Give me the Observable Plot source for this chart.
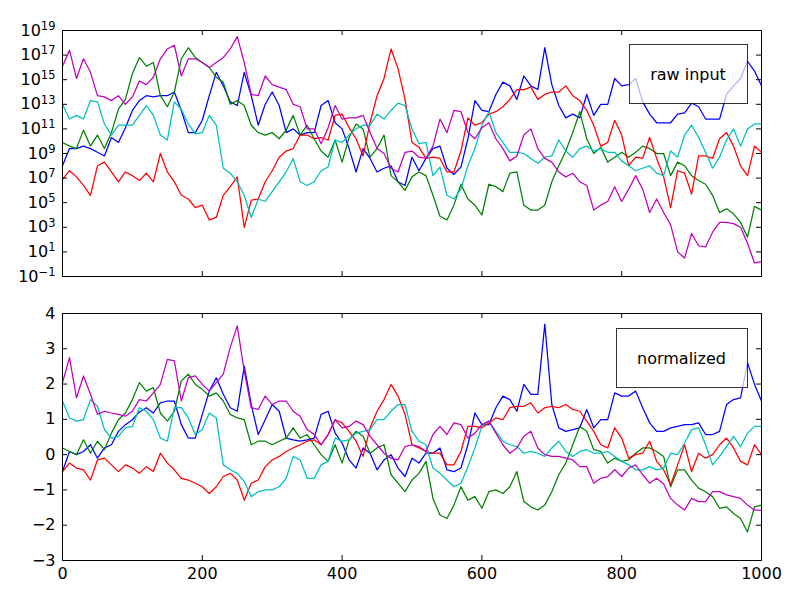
<!DOCTYPE html>
<html><head><meta charset="utf-8">
<script src="https://cdn.jsdelivr.net/npm/d3@7"></script>
<script src="https://cdn.jsdelivr.net/npm/@observablehq/plot@0.6"></script>
<style>
body{margin:0;background:#fff;}
#chart{width:800px;height:600px;}
#chart svg{display:block;}
</style></head><body><div id="chart"></div>
<script>
// sample positions (every 10 steps)
const steps = d3.range(0, 1001, 10);
const seriesNames = ["b", "g", "r", "c", "m"];
const seriesColors = ["#0000ff", "#008000", "#ff0000", "#00bfbf", "#bf00bf"];

// raw input as log10 exponents
const rawBlue = [
 8.0, 9.4, 9.4, 9.6, 9.4, 9.1, 8.8, 10.3, 9.9, 11.1,
 12.5, 13.3, 13.7, 13.6, 13.7, 13.7, 14.0, 12.5, 10.7, 10.7,
 11.7, 13.7, 15.6, 14.5, 13.2, 12.9, 15.6, 13.7, 11.3, 13.0,
 14.0, 12.9, 10.7, 11.0, 10.5, 10.7, 10.7, 12.9, 13.3, 11.5,
 11.0, 9.4, 7.5, 9.4, 8.6, 7.5, 7.8, 8.0, 6.7, 6.4,
 8.7, 7.6, 8.6, 9.4, 9.6, 7.8, 7.3, 7.9, 10.2, 13.3,
 12.5, 12.4, 13.8, 14.8, 14.5, 13.4, 15.3, 14.5, 14.2, 17.6,
 14.6, 12.9, 11.9, 12.2, 11.9, 13.8, 12.1, 13.0, 13.0, 15.1,
 14.5, 14.6, 15.1, 13.2, 12.2, 11.5, 11.5, 11.5, 12.2, 12.3,
 13.1, 12.8, 11.8, 11.8, 11.8, 13.8, 14.5, 15.1, 16.5, 15.7,
 14.5];
const rawGreen = [
 9.9, 9.6, 9.4, 10.9, 9.6, 10.5, 9.4, 10.7, 12.6, 13.4,
 15.5, 16.8, 16.1, 16.4, 13.7, 12.8, 14.0, 16.7, 17.6, 16.8,
 16.4, 16.0, 15.2, 14.8, 13.0, 13.3, 12.9, 11.3, 10.7, 10.5,
 10.7, 10.2, 10.9, 12.1, 10.5, 11.3, 10.2, 9.2, 8.7, 10.1,
 8.3, 10.3, 11.4, 11.0, 8.7, 9.4, 10.5, 7.2, 6.7, 6.0,
 7.1, 7.5, 7.2, 5.6, 3.9, 3.6, 4.8, 6.5, 5.3, 4.8,
 4.0, 6.5, 6.3, 5.9, 7.4, 7.5, 4.8, 4.4, 4.4, 4.8,
 6.7, 8.0, 9.2, 10.7, 12.4, 10.2, 9.0, 9.5, 8.3, 8.7,
 9.1, 8.7, 9.1, 9.6, 9.4, 9.0, 9.0, 7.2, 8.3, 8.0,
 7.2, 6.8, 6.5, 5.6, 4.2, 4.5, 4.1, 3.4, 2.2, 4.7,
 4.4];
const rawRed = [
 6.9, 7.6, 7.1, 6.4, 5.6, 8.0, 8.3, 7.5, 6.7, 7.5,
 7.2, 6.8, 7.4, 6.7, 9.0, 7.5, 6.7, 5.6, 5.3, 4.6,
 4.8, 3.6, 3.8, 5.6, 6.3, 7.1, 3.0, 5.2, 5.3, 6.7,
 7.6, 8.7, 9.2, 9.4, 10.5, 10.5, 10.2, 10.3, 10.1, 12.1,
 12.2, 11.1, 10.2, 8.8, 11.5, 13.7, 15.1, 17.5, 15.9, 13.4,
 9.9, 9.5, 8.6, 8.7, 8.6, 7.5, 7.5, 9.2, 11.9, 11.3,
 11.5, 12.2, 12.4, 12.8, 13.4, 14.2, 14.2, 14.4, 13.4, 13.8,
 14.0, 14.0, 14.5, 13.7, 13.3, 12.5, 11.3, 9.6, 9.9, 11.7,
 10.5, 8.0, 8.7, 8.6, 10.3, 8.6, 7.1, 4.6, 7.6, 7.4,
 5.7, 8.8, 8.8, 8.6, 10.2, 10.7, 9.6, 8.0, 7.2, 9.6,
 9.1];
const rawCyan = [
 13.0, 11.8, 12.1, 11.8, 13.3, 13.2, 11.4, 10.5, 11.3, 11.3,
 11.3, 12.1, 12.9, 12.1, 10.5, 10.1, 13.2, 12.6, 11.4, 10.6,
 10.7, 12.1, 11.3, 7.8, 7.4, 6.7, 5.6, 3.8, 5.3, 5.1,
 5.9, 6.7, 7.5, 8.6, 6.7, 6.4, 6.7, 7.6, 7.9, 10.1,
 9.9, 10.5, 11.0, 11.3, 11.3, 12.2, 11.8, 12.5, 13.1, 12.9,
 11.0, 9.8, 9.9, 7.2, 7.9, 5.6, 5.3, 6.1, 8.0, 9.4,
 11.3, 12.4, 10.7, 9.9, 9.1, 9.1, 9.0, 8.6, 8.2, 8.7,
 8.8, 10.1, 9.2, 8.7, 9.4, 9.6, 9.2, 9.4, 9.1, 9.1,
 8.4, 8.0, 7.6, 7.8, 8.0, 7.4, 7.2, 9.2, 8.7, 10.5,
 11.3, 10.3, 9.1, 7.8, 8.7, 10.1, 11.0, 9.6, 11.0, 11.4,
 11.4];
const rawMagenta = [
 16.1, 17.4, 15.1, 16.7, 15.6, 13.7, 13.6, 13.3, 13.7, 13.0,
 13.6, 14.9, 14.6, 15.2, 16.7, 17.5, 17.8, 15.3, 16.7, 16.7,
 16.4, 16.0, 16.4, 16.8, 17.5, 18.5, 16.4, 13.8, 13.7, 15.3,
 14.6, 14.4, 14.2, 13.0, 12.8, 11.0, 11.0, 9.8, 11.1, 12.9,
 11.8, 11.9, 11.9, 12.1, 10.7, 9.4, 9.0, 7.8, 7.5, 9.1,
 9.2, 8.7, 8.6, 9.6, 11.8, 10.7, 12.5, 12.4, 10.7, 10.2,
 11.1, 11.5, 10.2, 9.4, 8.4, 8.8, 10.5, 11.0, 9.4, 8.6,
 8.3, 7.5, 7.1, 7.4, 6.7, 6.4, 4.4, 4.8, 5.1, 6.3,
 5.1, 6.1, 7.2, 6.1, 4.2, 5.3, 4.2, 3.2, 1.0, 0.5,
 2.5, 1.5, 1.4, 2.6, 3.4, 3.4, 3.3, 3.0, 1.7, 0.1,
 0.2];

// normalized
const normBlue = [
 -0.48, 0.09, 0.00, 0.09, 0.28, -0.10, 0.19, 0.28, 0.66, 0.85,
 0.99, 1.21, 1.33, 1.18, 1.47, 1.52, 1.52, 0.85, 0.47, 0.47,
 1.14, 1.80, 2.18, 1.71, 1.33, 1.23, 2.51, 1.42, 0.57, 0.99,
 1.42, 1.23, 0.47, 0.42, 0.38, 0.42, 0.47, 1.14, 1.23, 0.61,
 0.33, -0.15, -0.38, 0.19, 0.04, -0.43, -0.15, 0.00, -0.38, -0.62,
 -0.10, -0.24, 0.04, 0.04, 0.19, -0.43, -0.48, -0.38, 0.28, 1.18,
 0.85, 0.85, 1.33, 1.66, 1.56, 1.23, 1.99, 1.71, 1.71, 3.70,
 1.42, 0.76, 0.66, 0.71, 0.76, 1.28, 0.76, 0.99, 0.99, 1.75,
 1.66, 1.66, 1.80, 1.33, 0.90, 0.66, 0.66, 0.76, 0.80, 0.85,
 0.85, 0.90, 0.57, 0.57, 0.66, 1.42, 1.56, 1.61, 2.60, 1.99,
 1.52];
const normGreen = [
 0.19, 0.09, 0.00, 0.42, 0.04, 0.38, 0.14, 0.61, 0.99, 1.18,
 1.56, 2.04, 1.80, 1.90, 1.18, 0.95, 1.23, 2.09, 2.28, 1.99,
 1.85, 1.66, 1.75, 1.52, 1.14, 1.04, 0.99, 0.28, 0.38, 0.38,
 0.28, 0.38, 0.47, 0.76, 0.47, 0.57, 0.28, 0.00, -0.19, 0.28,
 -0.24, 0.42, 0.66, 0.52, 0.04, 0.19, 0.28, -0.57, -0.81, -1.05,
 -0.72, -0.53, -0.19, -1.24, -1.71, -1.81, -1.43, -0.91, -1.29, -1.19,
 -1.52, -1.05, -1.00, -1.10, -0.91, -0.48, -1.33, -1.48, -1.57, -1.43,
 -1.05, -0.57, -0.24, 0.28, 0.80, 0.66, 0.14, 0.09, -0.24, -0.10,
 -0.19, -0.15, 0.04, 0.19, 0.19, 0.09, -0.05, -0.91, -0.43, -0.43,
 -0.72, -0.95, -1.05, -1.19, -1.52, -1.48, -1.67, -1.81, -2.19, -1.48,
 -1.43];
const normRed = [
 -0.48, -0.24, -0.38, -0.43, -0.72, -0.15, -0.10, -0.29, -0.48, -0.29,
 -0.38, -0.53, -0.34, -0.48, 0.04, -0.24, -0.43, -0.67, -0.72, -0.81,
 -0.91, -1.10, -0.91, -0.62, -0.53, -0.72, -1.29, -0.81, -0.72, -0.34,
 -0.15, -0.05, 0.09, 0.19, 0.28, 0.38, 0.42, 0.28, 0.57, 0.99,
 0.90, 0.66, 0.38, -0.05, 0.76, 1.23, 1.56, 1.99, 1.66, 1.14,
 0.28, 0.19, 0.09, 0.04, 0.04, -0.29, -0.29, 0.09, 0.80, 0.80,
 0.76, 0.90, 1.04, 0.99, 1.33, 1.37, 1.37, 1.47, 1.18, 1.33,
 1.37, 1.33, 1.42, 1.28, 1.23, 0.95, 0.66, 0.28, 0.19, 0.76,
 0.47, -0.10, 0.00, 0.04, 0.38, -0.19, -0.43, -0.86, -0.29, 0.28,
 -0.48, 0.04, -0.10, 0.00, 0.28, 0.47, 0.19, -0.19, -0.29, 0.28,
 0.00];
const normCyan = [
 1.52, 1.04, 0.95, 0.99, 1.56, 1.37, 0.71, 0.47, 0.52, 0.76,
 0.80, 1.33, 1.23, 0.99, 0.47, 0.38, 1.33, 1.33, 1.04, 0.57,
 0.71, 1.18, 1.04, -0.29, -0.43, -0.53, -0.76, -1.19, -1.05, -1.00,
 -1.00, -0.91, -0.67, -0.05, -0.15, -0.67, -0.67, -0.29, -0.19, 0.47,
 0.38, 0.42, 0.61, 0.66, 0.71, 0.99, 0.99, 1.23, 1.42, 1.42,
 0.66, 0.38, 0.28, -0.38, -0.53, -0.72, -0.91, -0.81, -0.34, 0.19,
 0.80, 0.95, 0.66, 0.38, 0.28, 0.23, 0.04, 0.09, 0.04, -0.05,
 0.19, 0.38, 0.09, -0.05, 0.09, 0.14, 0.04, 0.04, 0.09, -0.05,
 -0.19, -0.29, -0.43, -0.43, -0.34, -0.43, -0.38, 0.04, 0.00, 0.33,
 0.71, 0.76, 0.28, -0.29, -0.05, 0.23, 0.52, 0.23, 0.61, 0.80,
 0.80];
const normMagenta = [
 2.04, 2.75, 1.61, 2.23, 1.71, 1.14, 1.23, 1.18, 1.14, 1.09,
 1.23, 1.56, 1.52, 1.75, 1.99, 2.70, 2.66, 1.52, 2.18, 2.23,
 1.99, 1.80, 2.04, 2.28, 3.04, 3.65, 2.37, 1.33, 1.28, 1.66,
 1.42, 1.52, 1.52, 1.23, 1.09, 0.71, 0.57, 0.28, 0.57, 0.99,
 0.76, 0.80, 0.95, 0.85, 0.52, 0.28, 0.04, -0.10, -0.15, 0.23,
 0.28, 0.23, 0.09, 0.57, 0.80, 0.57, 0.90, 0.85, 0.47, 0.61,
 0.85, 0.95, 0.61, 0.28, 0.04, 0.19, 0.52, 0.66, 0.19, 0.00,
 -0.05, -0.05, -0.10, -0.15, -0.34, -0.34, -0.81, -0.67, -0.62, -0.43,
 -0.62, -0.38, -0.29, -0.57, -0.81, -0.67, -0.83, -1.24, -1.43, -1.57,
 -1.24, -1.33, -1.33, -1.05, -1.05, -1.14, -1.19, -1.24, -1.43, -1.57,
 -1.57];

// ticks and labels
const xTicks = [0, 200, 400, 600, 800, 1000];
const rawTickExps = [-1, 1, 3, 5, 7, 9, 11, 13, 15, 17, 19];
const normTicks = [-3, -2, -1, 0, 1, 2, 3, 4];
const legendLabels = ["raw input", "normalized"];

function table(arrs, f) {
  const rows = [];
  arrs.forEach((a, k) => a.forEach((v, i) => rows.push({x: steps[i], v: f(v), s: seriesNames[k]})));
  return rows;
}
const rawRows = table([rawBlue, rawGreen, rawRed, rawCyan, rawMagenta], e => Math.pow(10, e));
const normRows = table([normBlue, normGreen, normRed, normCyan, normMagenta], v => v);

const W = 800, ML = 62, MR = 39, TICK = 5;
const FONT = "DejaVu Sans";

function panel({rows, y, yTicks, yFormat, showX, height, marginTop, marginBottom}) {
  const fw = W - ML - MR, fh = height - marginTop - marginBottom;
  const marks = [
    Plot.line(rows, {x: "x", y: "v", z: "s", stroke: "s", strokeWidth: 1.25}),
    Plot.tickY(yTicks, {y: d => d, insetRight: fw - TICK, stroke: "#000"}),
    Plot.tickY(yTicks, {y: d => d, insetLeft: fw - TICK, stroke: "#000"}),
    Plot.tickX(xTicks, {x: d => d, insetBottom: fh - TICK, stroke: "#000"}),
    Plot.tickX(xTicks, {x: d => d, insetTop: fh - TICK, stroke: "#000"}),
    Plot.frame({stroke: "#000", strokeWidth: 1}),
    Plot.axisY(yTicks, {tickSize: 0, tickPadding: 7, tickFormat: yFormat, label: null})
  ];
  if (showX) marks.push(Plot.axisX(xTicks, {tickSize: 0, tickPadding: 7, tickFormat: d => String(d), label: null}));
  return Plot.plot({
    width: W, height, marginLeft: ML, marginRight: MR, marginTop, marginBottom,
    style: {fontFamily: FONT, fontSize: "16px", color: "#000", background: "#fff", overflow: "visible"},
    x: {domain: [0, 1000], axis: showX ? undefined : null, label: null},
    y: {...y, label: null},
    color: {domain: seriesNames, range: seriesColors},
    marks
  });
}

function addLegend(svg, label, marginTop, gap) {
  const g = d3.select(svg).append("g");
  const rect = g.append("rect");
  const text = g.append("text").text(label)
    .attr("font-family", FONT).attr("font-size", 16).attr("fill", "#000")
    .attr("text-anchor", "middle").attr("dy", "0.35em");
  const tw = text.node().getComputedTextLength();
  const w = Math.round(tw + 42), h = 59;
  const right = W - MR - 14, topY = marginTop + gap;
  rect.attr("x", right - w + 0.5).attr("y", topY + 0.5).attr("width", w).attr("height", h)
    .attr("fill", "#fff").attr("fill-opacity", 0.7)
    .attr("stroke", "#000").attr("stroke-opacity", 0.8);
  text.attr("x", right - w / 2).attr("y", topY + h / 2 + 0.5);
}

const chartEl = document.getElementById("chart");
const topSvg = panel({
  rows: rawRows,
  y: {type: "log", domain: [Math.pow(10, -1), Math.pow(10, 19)]},
  yTicks: rawTickExps.map(e => Math.pow(10, e)),
  yFormat: d => "10|" + Math.round(Math.log10(d)),
  showX: false, height: 295, marginTop: 30, marginBottom: 19
});
chartEl.appendChild(topSvg);
// superscript exponents on the log axis
d3.select(topSvg).selectAll('g[aria-label="y-axis tick label"] text').each(function() {
  const t = d3.select(this);
  const [base, exp] = t.text().split("|");
  t.text(null);
  t.append("tspan").text(base);
  t.append("tspan").attr("dy", "-0.5em").attr("font-size", "11.5px")
    .text(String(exp).replace("-", "\u2212"));
});
addLegend(topSvg, legendLabels[0], 30, 14);

const bottomSvg = panel({
  rows: normRows,
  y: {domain: [-3, 4]},
  yTicks: normTicks,
  yFormat: d => d < 0 ? "\u2212" + (-d) : String(d),
  showX: true, height: 305, marginTop: 18, marginBottom: 40
});
chartEl.appendChild(bottomSvg);
addLegend(bottomSvg, legendLabels[1], 18, 15);
</script>
</body></html>
